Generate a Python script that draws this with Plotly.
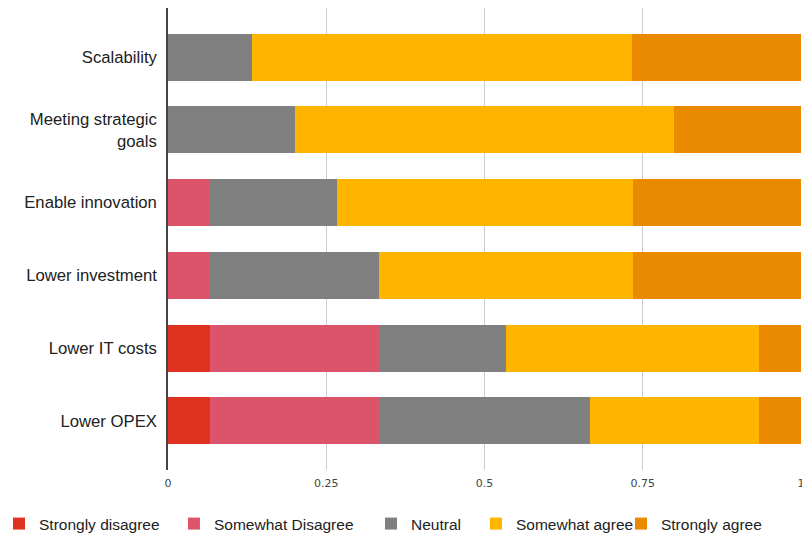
import plotly.graph_objects as go

categories = ["Scalability", "Meeting strategic<br>goals", "Enable innovation",
              "Lower investment", "Lower IT costs", "Lower OPEX"]
series_names = ["Strongly disagree", "Somewhat Disagree", "Neutral",
                "Somewhat agree", "Strongly agree"]
strongly_disagree = [0, 0, 0, 0, 0.067, 0.067]
somewhat_disagree = [0, 0, 0.067, 0.067, 0.267, 0.267]
neutral = [0.133, 0.2, 0.2, 0.267, 0.2, 0.333]
somewhat_agree = [0.6, 0.6, 0.467, 0.4, 0.4, 0.267]
strongly_agree = [0.267, 0.2, 0.267, 0.267, 0.067, 0.067]
colors = ["#E0331F", "#DB546A", "#808080", "#FFB400", "#E98A00"]
tick_vals = [0, 0.25, 0.5, 0.75, 1]
tick_text = ["0", "0.25", "0.5", "0.75", "1"]

values = [strongly_disagree, somewhat_disagree, neutral, somewhat_agree, strongly_agree]
legend_ids = ["legend", "legend2", "legend3", "legend4", "legend5"]
legend_x = [-0.2670, 0.0094, 0.3207, 0.4865, 0.7156]

fig = go.Figure()
for name, vals, col, lid in zip(series_names, values, colors, legend_ids):
    fig.add_trace(go.Bar(
        y=categories, x=vals, name=name, orientation="h",
        marker=dict(color=col, line=dict(width=0)),
        legend=lid,
    ))

legend_common = dict(orientation="h", xanchor="left", yref="container",
                     y=0.0242, yanchor="middle",
                     font=dict(size=15.5, color="#222222"), itemclick=False,
                     bgcolor="rgba(0,0,0,0)")
layout_legends = {}
for lid, lx in zip(legend_ids, legend_x):
    layout_legends[lid] = dict(legend_common, x=lx)

fig.update_layout(
    width=802, height=537,
    barmode="stack",
    bargap=0.353,
    plot_bgcolor="white", paper_bgcolor="white",
    margin=dict(l=168, r=1, t=8, b=67, autoexpand=False),
    font=dict(family="Liberation Sans, Arial, sans-serif", color="#222222"),
    showlegend=True,
    xaxis=dict(range=[0, 1], tickvals=tick_vals, ticktext=tick_text,
               showgrid=True, gridcolor="#CCCCCC", gridwidth=1,
               zeroline=False, showline=False, automargin=False,
               ticklabeloverflow="allow",
               tickfont=dict(size=11, family="DejaVu Sans, sans-serif", color="#444444"),
               ticks="", ticklabelstandoff=5),
    yaxis=dict(range=[5.677, -0.677], showgrid=False, zeroline=False,
               showline=True, linecolor="#444444", linewidth=1.5,
               automargin=False,
               tickfont=dict(size=16.7, color="#222222"), ticks="",
               ticklabelstandoff=6),
    **layout_legends,
)

fig.write_html("out.html", config={"displayModeBar": False},
               post_script="document.body.style.margin='0';document.body.style.overflow='hidden';")
